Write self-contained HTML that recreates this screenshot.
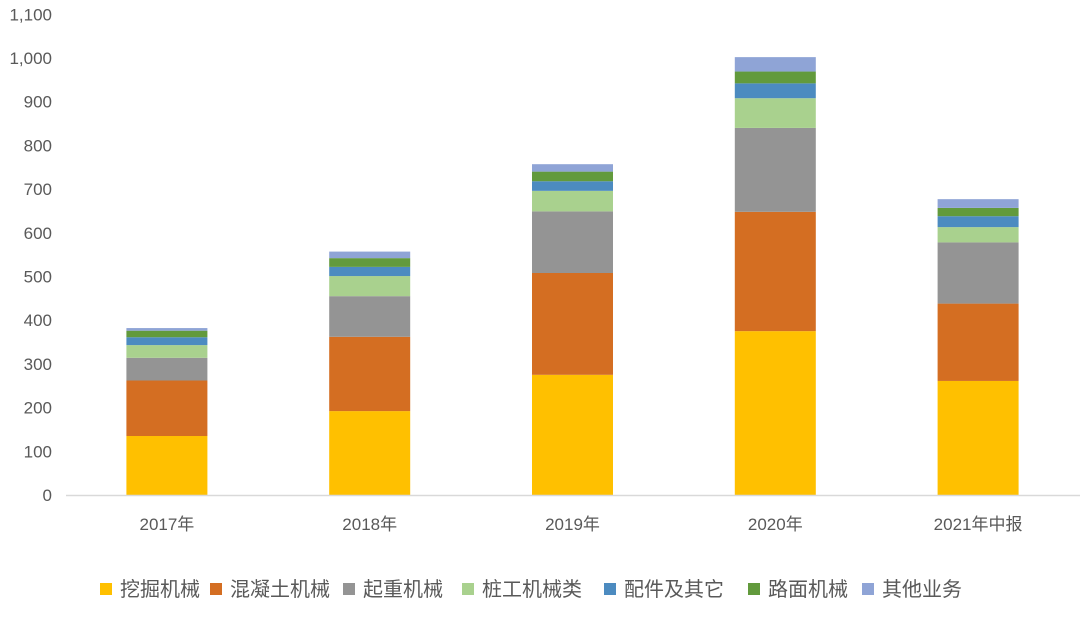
<!DOCTYPE html>
<html><head><meta charset="utf-8"><style>
body{margin:0;background:#fff;width:1080px;height:612px;overflow:hidden;font-family:"Liberation Sans","Noto Sans CJK SC",sans-serif;}
svg text{font-family:"Liberation Sans","Noto Sans CJK SC",sans-serif;fill:#595959;}
</style></head><body>
<svg id="chart" width="1080" height="612" xmlns="http://www.w3.org/2000/svg"></svg>
<script>
const categories=["2017年","2018年","2019年","2020年","2021年中报"];
const seriesNames=["挖掘机械","混凝土机械","起重机械","桩工机械类","配件及其它","路面机械","其他业务"];
const s0=[135,192,275,375,261];
const s1=[127,170,233,273,177];
const s2=[52,93,141,192,140];
const s3=[29,46,47,68,35];
const s4=[18,21,22,34,25];
const s5=[15,20,22,27,19];
const s6=[6,15,17,33,20];
const yTicks=[0,100,200,300,400,500,600,700,800,900,1000,1100];
const yTickLabels=["0","100","200","300","400","500","600","700","800","900","1,000","1,100"];
const series=[s0,s1,s2,s3,s4,s5,s6];
const colors=["#FFC000","#D46E22","#949494","#A9D18E","#4C8BC0","#629A3C","#8FA4D6"];
const svg=document.getElementById('chart');
const NS="http://www.w3.org/2000/svg";
const y0=495, pxPer=0.437, x0=66, x1=1080;
const y=v=>y0-v*pxPer;
const step=(x1-x0)/categories.length;
const xc=i=>x0+step*(i+0.5)-0.5;
const bw=81;
function mk(t,a){const e=document.createElementNS(NS,t);for(const k in a)e.setAttribute(k,a[k]);svg.appendChild(e);return e;}
yTicks.forEach((v,i)=>{
  const t=mk('text',{x:52,y:y(v)+6,'text-anchor':'end','font-size':17});
  t.textContent=yTickLabels[i];
  
  
});
categories.forEach((c,i)=>{
  let acc=0;
  series.forEach((s,j)=>{
    const r=mk('rect',{x:xc(i)-bw/2,y:y(acc+s[i]),width:bw,height:s[i]*pxPer,fill:colors[j]});
    
    
    acc+=s[i];
  });
  const t=mk('text',{x:xc(i),y:530,'text-anchor':'middle','font-size':17});
  t.textContent=c;
  
  
});
const ax=mk('line',{x1:x0,x2:x1,y1:y0+0.5,y2:y0+0.5,stroke:'#d9d9d9','stroke-width':1.5});


const lx=[100,210,343,462,604,748,862];
seriesNames.forEach((n,j)=>{
  const r=mk('rect',{x:lx[j],y:583,width:12,height:12,fill:colors[j]});
  
  
  const t=mk('text',{x:lx[j]+20,y:596,'font-size':20});
  t.textContent=n;
  
  
});
</script>
</body></html>
